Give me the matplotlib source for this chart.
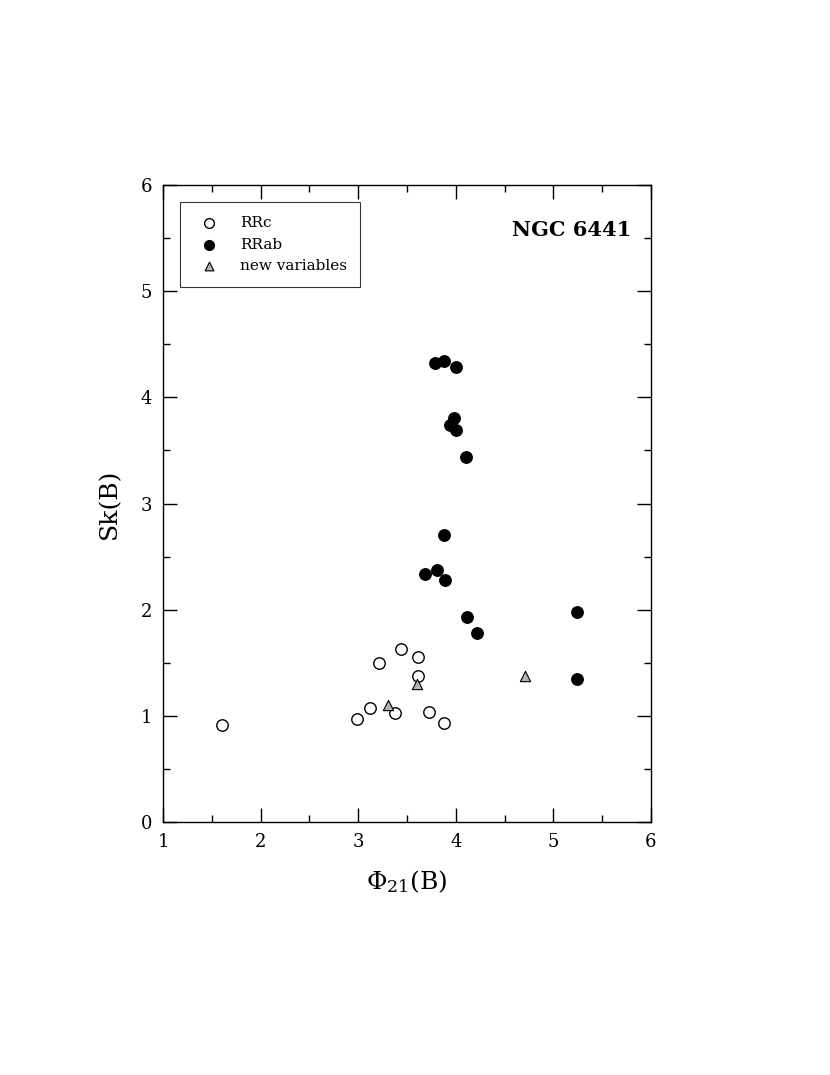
import numpy as np
import matplotlib
matplotlib.use("Agg")
import matplotlib.pyplot as plt
from matplotlib.ticker import MultipleLocator

plt.rcParams['font.family'] = ['DejaVu Serif']
plt.rcParams['mathtext.fontset'] = 'dejavuserif'

# RRc (acik daireler)
rrc_phi = [1.60, 2.99, 3.12, 3.21, 3.38, 3.44, 3.61, 3.61, 3.73, 3.88]
rrc_sk = [0.91, 0.97, 1.07, 1.50, 1.03, 1.63, 1.55, 1.38, 1.04, 0.93]

# RRab (dolu daireler)
rrab_phi = [3.79, 3.88, 4.00, 3.98, 3.94, 4.00, 4.10, 3.88, 3.81, 3.68, 3.89, 4.12, 4.22, 5.24, 5.24]
rrab_sk = [4.32, 4.34, 4.29, 3.81, 3.74, 3.69, 3.44, 2.70, 2.37, 2.34, 2.28, 1.93, 1.78, 1.98, 1.35]

# yeni degiskenler
new_phi = [3.31, 3.60, 4.71]
new_sk = [1.10, 1.30, 1.38]

fig = plt.figure(figsize=(8.3, 10.75), dpi=100)
ax = fig.add_axes([0.1964, 0.2353, 0.5879, 0.5926])

ax.scatter(rrc_phi, rrc_sk, s=68, facecolor='white', edgecolor='black', linewidth=1.0, label='RRc', zorder=3)
ax.scatter(rrab_phi, rrab_sk, s=68, facecolor='black', edgecolor='black', linewidth=1.0, label='RRab', zorder=3)
ax.scatter(new_phi, new_sk, s=55, marker='^', facecolor='#b4b4b4', edgecolor='black', linewidth=0.8, label='new variables', zorder=4)

ax.set_xlim(1, 6)
ax.set_ylim(0, 6)
ax.xaxis.set_major_locator(MultipleLocator(1))
ax.xaxis.set_minor_locator(MultipleLocator(0.5))
ax.yaxis.set_major_locator(MultipleLocator(1))
ax.yaxis.set_minor_locator(MultipleLocator(0.5))
ax.tick_params(which='both', direction='in', top=True, right=True, labelsize=13, width=1.0)
ax.tick_params(which='major', length=10, pad=8)
ax.tick_params(which='minor', length=5)
for s in ax.spines.values():
    s.set_linewidth(1.0)

ax.set_xlabel(r'$\Phi_{21}$(B)', fontsize=18, labelpad=12)
ax.set_ylabel('Sk(B)', fontsize=18, labelpad=14)

ax.text(0.96, 0.93, 'NGC 6441', transform=ax.transAxes, ha='right', va='center',
        fontsize=15, fontweight='bold')

leg = ax.legend(loc='upper left', bbox_to_anchor=(0.035, 0.973), fontsize=11,
                frameon=True, fancybox=False, edgecolor='black', handletextpad=1.0,
                borderpad=0.9, labelspacing=0.5, scatterpoints=1, markerscale=0.85,
                borderaxespad=0)
leg.get_frame().set_linewidth(0.8)

fig.savefig('out.png', dpi=100)
